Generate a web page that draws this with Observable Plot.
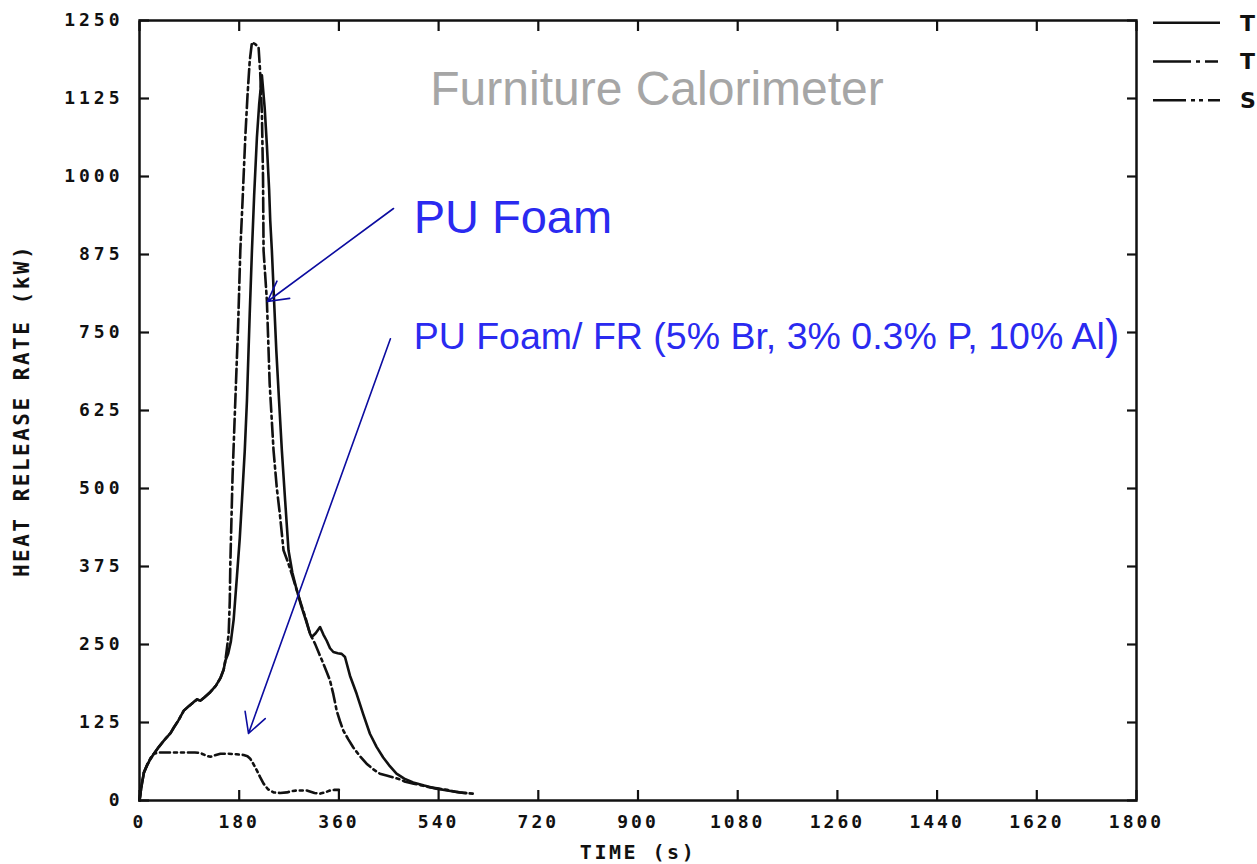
<!DOCTYPE html>
<html><head><meta charset="utf-8">
<script src="https://cdn.jsdelivr.net/npm/d3@7"></script>
<script src="https://cdn.jsdelivr.net/npm/@observablehq/plot@0.6"></script>
<style>
body{margin:0;background:#fff;}
#chart{position:relative;width:1257px;height:864px;overflow:hidden;}
#chart g[aria-label="y-axis tick label"]{letter-spacing:4px;font-size:18px;}
#chart g[aria-label="x-axis tick label"]{letter-spacing:3px;font-size:18px;}
#chart g[aria-label="y-axis label"]{letter-spacing:2.5px;font-size:21px;}
#chart g[aria-label="x-axis label"]{letter-spacing:2.5px;font-size:20px;}
#legend{position:absolute;left:1140px;top:0;}
</style></head>
<body><div id="chart"></div>
<script>
// ---- data ----
const xTicks = [0,180,360,540,720,900,1080,1260,1440,1620,1800];
const yTicks = [0,125,250,375,500,625,750,875,1000,1125,1250];

// Series 1: solid "T"
const tSolid = [0,3,8,14,20,26,35,44,56,62,70,80,90,98,104,110,118,128,138,146,152,155,160,165,170,176,181,185,190,194,199,203,207,212,216,221,226,230,234,236,239,243,247,252,257,263,269,276,284,292,300,308,311,318,326,332,338,344,350,358,365,371,380,392,404,416,428,440,452,464,478,494,514,536,556,578,590];
const hrrSolid = [0,20,45,57,67,75,86,96,108,117,128,144,152,158,162,160,166,174,184,196,210,224,235,255,290,360,420,481,560,641,780,881,970,1063,1115,1162,1110,1050,980,930,881,800,721,640,561,480,401,365,337,312,290,267,262,268,278,266,256,244,238,236,235,230,200,171,138,107,86,69,55,43,35,29,24,19,16,13,12];

// Series 2: dash-dot "T"
const tDashDot = [0,3,8,14,20,26,35,44,56,62,70,80,90,98,104,110,118,128,138,146,152,155,158,161,163,164,166,168,173,178,182,186,191,195,199,203,209,215,218,221,223,224,230,235,242,248,254,260,268,276,284,292,300,308,317,324,332,338,344,350,356,362,368,377,386,398,410,422,434,446,458,470,480,495,510,525,540,555,570,585,602];
const hrrDashDot = [0,20,45,57,67,75,86,96,108,117,128,144,152,158,162,160,166,174,184,196,210,224,245,267,320,380,450,520,641,760,881,960,1063,1130,1185,1215,1212,1207,1165,1100,1000,881,801,668,561,500,454,401,382,360,337,314,292,267,251,236,219,206,192,170,144,127,112,98,85,71,59,50,43,40,37,34,30,27,24,21,19,17,14,12,11];

// Series 3: dash-dot-dot "S"
const tS = [0,3,8,14,20,26,35,44,60,86,100,110,120,128,138,146,160,175,188,195,200,206,212,218,224,232,242,254,266,275,284,302,316,326,335,344,352,360];
const hrrS = [0,20,45,58,68,75,77,77,77,77,77,76,72,70,73,75,75,74,73,71,67,58,48,37,27,18,13,12,13,15,16,16,12,11,13,16,17,17];

const seriesNames = ["T","T","S"];
const seriesDash = [null, "14,4,3,4", "10,4,3,4,3,4"];

// annotations (in data units: time s, kW)
const titleText = "Furniture Calorimeter";
const titlePos = [525, 1114];
const label1Text = "PU Foam";
const label1Pos = [495, 909];
const label2Text = "PU Foam/ FR (5% Br, 3% 0.3% P, 10% Al";
const label2Pos = [495, 724];
const arrowX1 = [458.6, 453], arrowY1 = [948.7, 740];
const arrowX2 = [231, 196.8], arrowY2 = [799.7, 107.4];

// ---- build ----
const rows = (t, v, k) => t.map((d, i) => ({t: d, hrr: v[i], k}));
const solid = rows(tSolid, hrrSolid, 0);
const dashdot = rows(tDashDot, hrrDashDot, 1);
const sData = rows(tS, hrrS, 2);
const arrows = arrowX1.map((d, i) => ({x1: d, y1: arrowY1[i], x2: arrowX2[i], y2: arrowY2[i]}));

const lineOpts = (i) => ({x: "t", y: "hrr", stroke: "#111", strokeWidth: 2.6, strokeDasharray: seriesDash[i] ?? undefined, strokeLinejoin: "round"});
const fmt = d => String(d);

const chart = Plot.plot({
  width: 1257, height: 864,
  marginLeft: 139, marginRight: 121, marginTop: 20, marginBottom: 64,
  style: {fontFamily: "DejaVu Sans Mono", fontWeight: "bold", fontSize: "17px", color: "#111", background: "white"},
  x: {domain: [0, 1800]},
  y: {domain: [0, 1250]},
  marks: [
    Plot.axisY({ticks: yTicks, tickFormat: fmt, anchor: "left", tickSize: 10, dx: 10, tickPadding: 16, strokeWidth: 2.2,
      label: "HEAT RELEASE RATE (kW)", labelArrow: "none", labelAnchor: "center", labelOffset: 125}),
    Plot.axisY({ticks: yTicks, anchor: "right", tickSize: 10, dx: -10, strokeWidth: 2.2, tickFormat: () => "", label: null}),
    Plot.axisX({ticks: xTicks, tickFormat: fmt, anchor: "bottom", tickSize: 10, dy: -10, tickPadding: 15, strokeWidth: 2.2, label: null}),
    Plot.axisX({ticks: [], anchor: "bottom", tickSize: 0, dx: -14, dy: -10,
      label: "TIME (s)", labelArrow: "none", labelAnchor: "center", labelOffset: 58}),
    Plot.axisX({ticks: xTicks, anchor: "top", tickSize: 10, dy: 10, strokeWidth: 2.2, tickFormat: () => "", label: null}),
    Plot.frame({stroke: "#111", strokeWidth: 2.5}),
    Plot.line(solid, lineOpts(0)),
    Plot.line(dashdot, lineOpts(1)),
    Plot.line(sData, lineOpts(2)),
    Plot.arrow(arrows, {x1: "x1", y1: "y1", x2: "x2", y2: "y2", bend: 0, stroke: "#0c0ca0", strokeWidth: 1.6, headLength: 21, headAngle: 57}),
    Plot.text([titleText], {x: titlePos[0], y: titlePos[1], text: d => d, textAnchor: "start", lineAnchor: "bottom",
      fontFamily: "Liberation Sans, Arial, sans-serif", fontWeight: "normal", fontSize: 48, fill: "#a6a6a6"}),
    Plot.text([label1Text], {x: label1Pos[0], y: label1Pos[1], text: d => d, textAnchor: "start", lineAnchor: "bottom",
      fontFamily: "Liberation Sans, Arial, sans-serif", fontWeight: "normal", fontSize: 47, fill: "#2a2af0"}),
    Plot.text([label2Text], {x: label2Pos[0], y: label2Pos[1], text: d => d, textAnchor: "start", lineAnchor: "bottom",
      fontFamily: "Liberation Sans, Arial, sans-serif", fontWeight: "normal", fontSize: 37.5, fill: "#2a2af0",
      render(index, scales, values, dims, context, next) {
        const g = next(index, scales, values, dims, context);
        d3.select(g).selectAll("text").append("tspan").attr("font-size", 43).text(")");
        return g;
      }})
  ]
});
chart.classList.add("plot");
const host = document.getElementById("chart");
host.appendChild(chart);

// legend (line styles) in the top-right margin
const leg = d3.select(host).append("svg").attr("id", "legend").attr("width", 117).attr("height", 120);
const items = leg.selectAll("g").data(seriesNames.map((n, i) => ({n, i}))).join("g")
  .attr("transform", d => `translate(0,${22.7 + d.i * 38.8})`);
items.append("line").attr("x1", 13).attr("x2", 80).attr("stroke", "#111").attr("stroke-width", 2.6)
  .attr("stroke-dasharray", d => d.i === 0 ? null : d.i === 1 ? "38,5,4,5,13" : "33,5,4,4,4,5,13");
items.append("text").attr("x", 100).attr("dy", "0.36em").attr("font-family", "DejaVu Sans").attr("font-weight", "bold")
  .attr("font-size", 22).attr("fill", "#111").text(d => d.n);
</script></body></html>
